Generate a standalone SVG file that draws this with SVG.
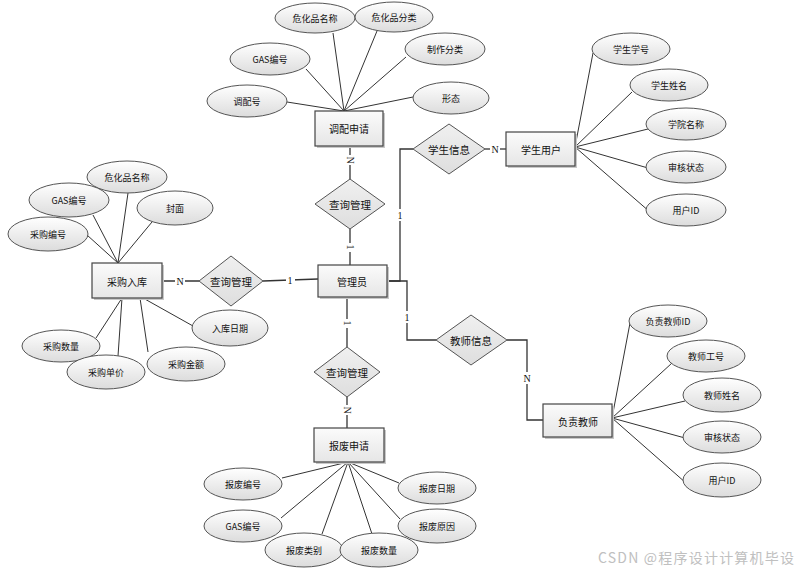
<svg xmlns="http://www.w3.org/2000/svg" width="805" height="573" viewBox="0 0 805 573">
<defs>
<linearGradient id="eg" x1="0" y1="0" x2="0" y2="1"><stop offset="0" stop-color="#ffffff"/><stop offset="1" stop-color="#dcdcdc"/></linearGradient>
<linearGradient id="rg" x1="0" y1="0" x2="0" y2="1"><stop offset="0" stop-color="#fbfbfb"/><stop offset="1" stop-color="#e6e6e6"/></linearGradient>
<linearGradient id="dg" x1="0" y1="0" x2="0" y2="1"><stop offset="0" stop-color="#f0f0f0"/><stop offset="1" stop-color="#dedede"/></linearGradient>
</defs>
<style>
.bg{fill:#ffffff}
.el{fill:url(#eg);stroke:#555;stroke-width:1}
.en{fill:url(#rg);stroke:#444;stroke-width:1.2}
.sh{fill:#c8c8c8}
.dm{fill:url(#dg);stroke:#555;stroke-width:1}
.ln{stroke:#333;stroke-width:1;fill:none}
.cn{stroke:#333;stroke-width:1.3;fill:none}
text{font-family:"Noto Sans CJK SC","Liberation Sans",sans-serif;fill:#111;text-anchor:middle;dominant-baseline:central}
.a{font-size:9px}
.e{font-size:10px}
.d{font-size:10.5px}
.c{font-family:"Liberation Serif",serif;font-size:10px}
.wm{font-size:14px;fill:#c0c0c0;text-anchor:start}
</style>
<rect class="bg" x="0" y="0" width="805" height="573"/>

<g id="connectors">
<!-- 调配申请 attributes -->
<line class="ln" x1="344" y1="111" x2="333" y2="33"/>
<line class="ln" x1="344" y1="111" x2="377" y2="31"/>
<line class="ln" x1="344" y1="111" x2="306" y2="69"/>
<line class="ln" x1="344" y1="111" x2="406" y2="57"/>
<line class="ln" x1="344" y1="111" x2="287" y2="102"/>
<line class="ln" x1="344" y1="111" x2="413" y2="97"/>
<!-- 采购入库 attributes -->
<line class="ln" x1="118" y1="263" x2="128" y2="193"/>
<line class="ln" x1="118" y1="263" x2="93" y2="215"/>
<line class="ln" x1="118" y1="263" x2="152" y2="222"/>
<line class="ln" x1="118" y1="263" x2="87" y2="235"/>
<line class="ln" x1="122" y1="298" x2="96" y2="338"/>
<line class="ln" x1="122" y1="298" x2="118" y2="356"/>
<line class="ln" x1="140" y1="298" x2="148" y2="352"/>
<line class="ln" x1="143" y1="298" x2="193" y2="326"/>
<!-- 报废申请 attributes -->
<line class="ln" x1="348" y1="462" x2="282" y2="478"/>
<line class="ln" x1="348" y1="462" x2="281" y2="518"/>
<line class="ln" x1="348" y1="462" x2="322" y2="534"/>
<line class="ln" x1="348" y1="462" x2="372" y2="534"/>
<line class="ln" x1="348" y1="462" x2="399" y2="483"/>
<line class="ln" x1="348" y1="462" x2="400" y2="519"/>
<!-- 学生用户 attributes -->
<line class="ln" x1="575" y1="147" x2="593" y2="53"/>
<line class="ln" x1="575" y1="147" x2="632" y2="92"/>
<line class="ln" x1="575" y1="147" x2="648" y2="129"/>
<line class="ln" x1="575" y1="147" x2="648" y2="168"/>
<line class="ln" x1="575" y1="147" x2="650" y2="212"/>
<!-- 负责教师 attributes -->
<line class="ln" x1="612" y1="418" x2="630" y2="323"/>
<line class="ln" x1="612" y1="418" x2="672" y2="363"/>
<line class="ln" x1="612" y1="418" x2="685" y2="401"/>
<line class="ln" x1="612" y1="418" x2="685" y2="438"/>
<line class="ln" x1="612" y1="418" x2="686" y2="483"/>
<!-- relationships -->
<polyline class="cn" points="162,281 199,281"/>
<polyline class="cn" points="263,281 318,279"/>
<polyline class="cn" points="350,146 350,179"/>
<polyline class="cn" points="350,229 350,265"/>
<polyline class="cn" points="347,297 347,347"/>
<polyline class="cn" points="347,397 347,428"/>
<polyline class="cn" points="387,281 400,281 400,149 413,149"/>
<polyline class="cn" points="485,149 506,149"/>
<polyline class="cn" points="387,281 407,281 407,340 436,340"/>
<polyline class="cn" points="507,340 527,340 527,420 543,420"/>
<!-- cardinalities -->
<rect x="175" y="275" width="10" height="12" fill="#fff"/>
<text class="c" x="180" y="281">N</text>
<rect x="286" y="274" width="9" height="12" fill="#fff"/>
<text class="c" x="290" y="280">1</text>
<rect x="344" y="155" width="12" height="10" fill="#fff"/>
<text class="c" x="350" y="160" transform="rotate(90 350 160)">N</text>
<rect x="345" y="243" width="10" height="9" fill="#fff"/>
<text class="c" x="350" y="247" transform="rotate(90 350 247)">1</text>
<rect x="342" y="319" width="10" height="9" fill="#fff"/>
<text class="c" x="347" y="323" transform="rotate(90 347 323)">1</text>
<rect x="341" y="405" width="12" height="10" fill="#fff"/>
<text class="c" x="347" y="410" transform="rotate(90 347 410)">N</text>
<rect x="396" y="209" width="8" height="12" fill="#fff"/>
<text class="c" x="400" y="215">1</text>
<rect x="490" y="143" width="10" height="12" fill="#fff"/>
<text class="c" x="495" y="149">N</text>
<rect x="403" y="311" width="8" height="12" fill="#fff"/>
<text class="c" x="407" y="317">1</text>
<rect x="522" y="372" width="10" height="12" fill="#fff"/>
<text class="c" x="527" y="378">N</text>
</g>

<!-- entities -->
<g id="entity-tiaopei"><rect class="sh" x="317" y="113" width="68" height="35"/><rect class="en" x="315" y="111" width="68" height="35"/><text class="e" x="349" y="128">调配申请</text></g>
<g id="entity-caigou"><rect class="sh" x="94" y="265" width="70" height="35"/><rect class="en" x="92" y="263" width="70" height="35"/><text class="e" x="127" y="281">采购入库</text></g>
<g id="entity-admin"><rect class="sh" x="320" y="267" width="69" height="32"/><rect class="en" x="318" y="265" width="69" height="32"/><text class="e" x="352" y="281">管理员</text></g>
<g id="entity-baofei"><rect class="sh" x="316" y="430" width="70" height="34"/><rect class="en" x="314" y="428" width="70" height="34"/><text class="e" x="349" y="445">报废申请</text></g>
<g id="entity-student"><rect class="sh" x="508" y="134" width="69" height="34"/><rect class="en" x="506" y="132" width="69" height="34"/><text class="e" x="541" y="149">学生用户</text></g>
<g id="entity-teacher"><rect class="sh" x="545" y="406" width="69" height="33"/><rect class="en" x="543" y="404" width="69" height="33"/><text class="e" x="578" y="421">负责教师</text></g>

<!-- relationships -->
<g id="rel-left"><polygon class="dm" points="231,256 263,281 231,306 199,281"/><text class="d" x="231" y="281">查询管理</text></g>
<g id="rel-top"><polygon class="dm" points="350,179 385,204 350,229 315,204"/><text class="d" x="350" y="204">查询管理</text></g>
<g id="rel-bottom"><polygon class="dm" points="347,347 380,372 347,397 314,372"/><text class="d" x="347" y="372">查询管理</text></g>
<g id="rel-student"><polygon class="dm" points="449,124 485,149 449,174 413,149"/><text class="d" x="449" y="149">学生信息</text></g>
<g id="rel-teacher"><polygon class="dm" points="471,315 507,340 471,365 436,340"/><text class="d" x="471" y="340">教师信息</text></g>

<!-- attributes of 调配申请 -->
<g id="attr-t1"><ellipse class="el" cx="315" cy="18" rx="40" ry="15"/><text class="a" x="315" y="18">危化品名称</text></g>
<g id="attr-t2"><ellipse class="el" cx="394" cy="17" rx="39" ry="15"/><text class="a" x="394" y="17">危化品分类</text></g>
<g id="attr-t3"><ellipse class="el" cx="270" cy="59" rx="40" ry="16"/><text class="a" x="270" y="59">GAS编号</text></g>
<g id="attr-t4"><ellipse class="el" cx="445" cy="49" rx="40" ry="16"/><text class="a" x="445" y="49">制作分类</text></g>
<g id="attr-t5"><ellipse class="el" cx="247" cy="101" rx="40" ry="16"/><text class="a" x="247" y="101">调配号</text></g>
<g id="attr-t6"><ellipse class="el" cx="451" cy="98" rx="38" ry="16"/><text class="a" x="451" y="98">形态</text></g>

<!-- attributes of 采购入库 -->
<g id="attr-c1"><ellipse class="el" cx="127" cy="177" rx="40" ry="16"/><text class="a" x="127" y="177">危化品名称</text></g>
<g id="attr-c2"><ellipse class="el" cx="69" cy="200" rx="40" ry="17"/><text class="a" x="69" y="200">GAS编号</text></g>
<g id="attr-c3"><ellipse class="el" cx="175" cy="208" rx="38" ry="17"/><text class="a" x="175" y="208">封面</text></g>
<g id="attr-c4"><ellipse class="el" cx="48" cy="234" rx="40" ry="17"/><text class="a" x="48" y="234">采购编号</text></g>
<g id="attr-c5"><ellipse class="el" cx="230" cy="328" rx="38" ry="18"/><text class="a" x="230" y="328">入库日期</text></g>
<g id="attr-c6"><ellipse class="el" cx="61" cy="346" rx="39" ry="16"/><text class="a" x="61" y="346">采购数量</text></g>
<g id="attr-c7"><ellipse class="el" cx="106" cy="372" rx="39" ry="17"/><text class="a" x="106" y="372">采购单价</text></g>
<g id="attr-c8"><ellipse class="el" cx="186" cy="364" rx="39" ry="17"/><text class="a" x="186" y="364">采购金额</text></g>

<!-- attributes of 报废申请 -->
<g id="attr-b1"><ellipse class="el" cx="243" cy="484" rx="39" ry="16"/><text class="a" x="243" y="484">报废编号</text></g>
<g id="attr-b2"><ellipse class="el" cx="243" cy="526" rx="39" ry="16"/><text class="a" x="243" y="526">GAS编号</text></g>
<g id="attr-b3"><ellipse class="el" cx="304" cy="550" rx="39" ry="17"/><text class="a" x="304" y="550">报废类别</text></g>
<g id="attr-b4"><ellipse class="el" cx="379" cy="550" rx="39" ry="17"/><text class="a" x="379" y="550">报废数量</text></g>
<g id="attr-b5"><ellipse class="el" cx="437" cy="488" rx="39" ry="16"/><text class="a" x="437" y="488">报废日期</text></g>
<g id="attr-b6"><ellipse class="el" cx="437" cy="526" rx="39" ry="17"/><text class="a" x="437" y="526">报废原因</text></g>

<!-- attributes of 学生用户 -->
<g id="attr-s1"><ellipse class="el" cx="631" cy="49" rx="39" ry="16"/><text class="a" x="631" y="49">学生学号</text></g>
<g id="attr-s2"><ellipse class="el" cx="669" cy="85" rx="39" ry="16"/><text class="a" x="669" y="85">学生姓名</text></g>
<g id="attr-s3"><ellipse class="el" cx="686" cy="124" rx="40" ry="16"/><text class="a" x="686" y="124">学院名称</text></g>
<g id="attr-s4"><ellipse class="el" cx="686" cy="167" rx="40" ry="16"/><text class="a" x="686" y="167">审核状态</text></g>
<g id="attr-s5"><ellipse class="el" cx="686" cy="210" rx="40" ry="16"/><text class="a" x="686" y="210">用户ID</text></g>

<!-- attributes of 负责教师 -->
<g id="attr-f1"><ellipse class="el" cx="668" cy="321" rx="39" ry="16"/><text class="a" x="668" y="321">负责教师ID</text></g>
<g id="attr-f2"><ellipse class="el" cx="706" cy="356" rx="39" ry="16"/><text class="a" x="706" y="356">教师工号</text></g>
<g id="attr-f3"><ellipse class="el" cx="722" cy="395" rx="39" ry="17"/><text class="a" x="722" y="395">教师姓名</text></g>
<g id="attr-f4"><ellipse class="el" cx="722" cy="437" rx="39" ry="16"/><text class="a" x="722" y="437">审核状态</text></g>
<g id="attr-f5"><ellipse class="el" cx="722" cy="480" rx="39" ry="17"/><text class="a" x="722" y="480">用户ID</text></g>

<text class="wm" x="598" y="557" textLength="196" lengthAdjust="spacing">CSDN @程序设计计算机毕设</text>
</svg>
